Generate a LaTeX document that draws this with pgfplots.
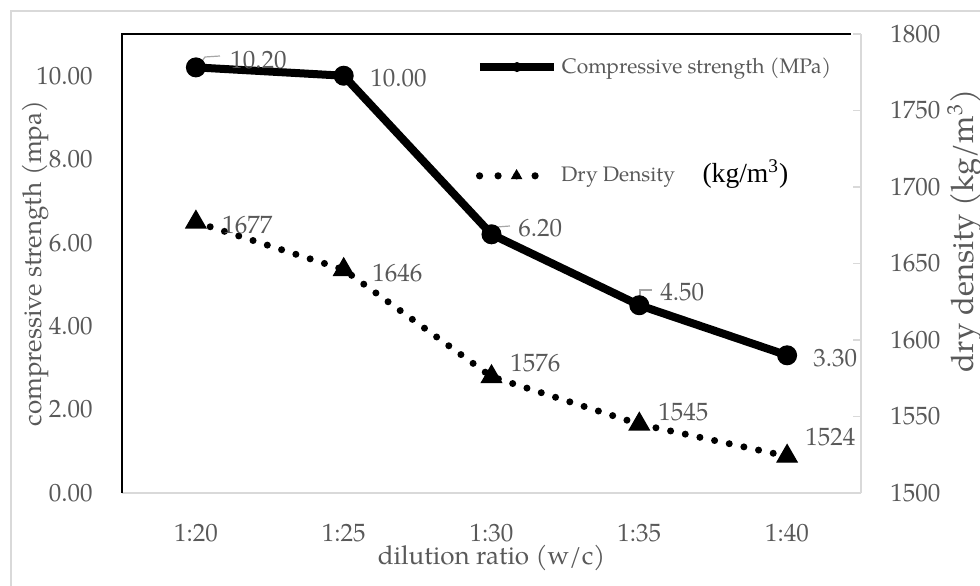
\documentclass[border=0pt]{standalone}
\usepackage{fontspec}
\setmainfont{TeX Gyre Pagella}
\newfontfamily\timesf{Liberation Serif}
\usepackage{pgfplots}
\usepackage{pgfplotstable}
\pgfplotsset{compat=1.18}

\definecolor{txt}{HTML}{595959}
\definecolor{axgray}{HTML}{D9D9D9}
\definecolor{leader}{HTML}{A6A6A6}

% dilution ratio index, compressive strength (MPa), dry density (kg/m3)
\pgfplotstableread{
x cs dd
0 10.20 1677
1 10.00 1646
2 6.20 1576
3 4.50 1545
4 3.30 1524
}\datatable

\tikzset{lab/.style={font=\fontsize{12.5}{15}\selectfont, text=txt, inner sep=0pt, anchor=west}}

\pgfplotsset{
  common/.style={
    width=369.5pt, height=229.5pt, scale only axis,
    xmin=-0.5, xmax=4.5, clip=false,
    /pgf/number format/assume math mode=true,
    tick label style={font=\fontsize{12.5}{15}\selectfont, text=txt, inner sep=0pt},
    label style={font=\fontsize{13}{15}\selectfont, text=txt},
    legend style={draw=none, fill=none, inner sep=0pt, outer sep=0pt,
      font=\fontsize{10.5}{12}\selectfont, text=txt, anchor=west},
    legend cell align=left,
    legend image code/.code={\draw[mark repeat=2,mark phase=2,#1] plot coordinates {(0pt,0pt) (18.5pt,0pt) (37pt,0pt)};},
  },
}

\begin{document}
\begin{tikzpicture}
\useasboundingbox (-61pt,-46pt) rectangle (429pt,246.5pt);

\begin{axis}[common,
    ymin=0, ymax=11, ytick={0,2,...,10},
    xtick={0,...,4}, xticklabels={1:20,1:25,1:30,1:35,1:40},
    axis line style={draw=none}, major tick length=0pt,
    yticklabel style={/pgf/number format/fixed, /pgf/number format/fixed zerofill,
      /pgf/number format/precision=2, anchor=east, xshift=-14.5pt},
    xticklabel style={anchor=center, yshift=-20pt},
    xlabel={dilution ratio (w/c)},
    xlabel style={at={(rel axis cs:0.5,-0.142)}, anchor=center},
    ylabel={compressive strength (mpa)},
    ylabel style={at={(rel axis cs:-0.1177,0.5)}, anchor=center},
    legend style={at={(rel axis cs:0.479,0.928)}},
    legend image post style={mark size=2.2pt},
  ]
  \draw[axgray, line width=1pt] (rel axis cs:0,0) -- (rel axis cs:1,0);
  \draw[black, line width=0.8pt] (rel axis cs:0,0) -- (rel axis cs:0,1) -- (rel axis cs:0.987,1);

  \addplot[black, line width=4pt, mark=*, mark size=4.7pt, mark options={line width=0.6pt}]
    table[x=x, y=cs] {\datatable};
  \addlegendentry{Compressive strength (MPa)}

  \draw[leader, line width=0.6pt] (axis cs:0.0074,10.185) -- (axis cs:0.0616,10.449) -- (axis cs:0.163,10.473);
  \draw[leader, line width=0.6pt] (axis cs:2.003,6.183) -- (axis cs:2.037,6.375) -- (axis cs:2.125,6.399);
  \draw[leader, line width=0.6pt] (axis cs:3.005,4.458) -- (axis cs:3.005,4.865) -- (axis cs:3.086,4.865);

  \node[lab] at (axis cs:0.2307,10.377) {10.20};
  \node[lab] at (axis cs:1.178,9.946) {10.00};
  \node[lab] at (axis cs:2.179,6.351) {6.20};
  \node[lab] at (axis cs:3.140,4.817) {4.50};
  \node[lab] at (axis cs:4.175,3.235) {3.30};
\end{axis}

\begin{axis}[common,
    ymin=1500, ymax=1800, ytick={1500,1550,...,1800},
    axis y line*=right, axis x line=none,
    ytick align=inside, major tick length=4pt,
    tick style={axgray, line width=0.8pt},
    axis line style={axgray, line width=1pt},
    yticklabel style={/pgf/number format/1000 sep={}, anchor=west, xshift=14.5pt},
    ylabel={dry density (kg/m\textsuperscript{3})},
    ylabel style={at={(rel axis cs:1.1408,0.571)}, anchor=center, font=\fontsize{15.5}{18}\selectfont},
    legend style={at={(rel axis cs:0.479,0.691)}},
    legend image post style={mark size=2.8pt, line width=3.6pt, dash pattern=on 0pt off 9.25pt},
  ]
  \addplot[black, line width=3.5pt, line cap=round, dash pattern=on 0pt off 7.5pt,
    mark=triangle*, mark size=5.8pt, mark options={solid, line width=0.6pt}]
    table[x=x, y=dd] {\datatable};
  \addlegendentry{Dry Density}

  \node[lab] at (axis cs:0.177,1675.2) {1677};
  \node[lab] at (axis cs:1.191,1643.8) {1646};
  \node[lab] at (axis cs:2.125,1585.0) {1576};
  \node[lab] at (axis cs:3.127,1552.9) {1545};
  \node[lab] at (axis cs:4.121,1536.6) {1524};

  \node[anchor=west, inner sep=0pt, font=\timesf\fontsize{13.8}{16}\selectfont]
    at (rel axis cs:0.785,0.695) {(kg/m\textsuperscript{3})};
\end{axis}

\draw[axgray, line width=1pt] (-55.5pt,-60pt) -- (-55.5pt,241pt) -- (440pt,241pt);
\end{tikzpicture}
\end{document}
